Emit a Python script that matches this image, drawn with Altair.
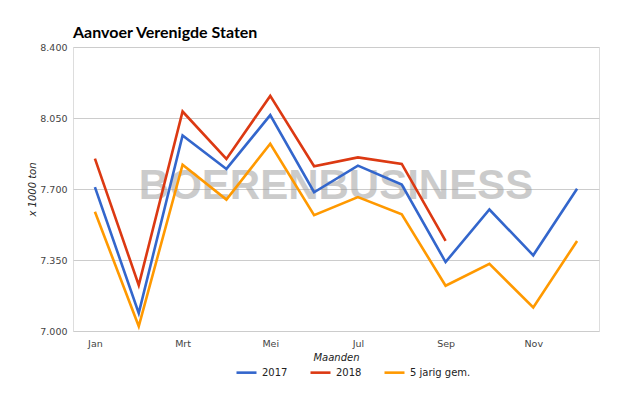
import altair as alt
import pandas as pd

months = ["Jan", "Feb", "Mrt", "Apr", "Mei", "Jun", "Jul", "Aug", "Sep", "Okt", "Nov", "Dec"]
v2017 = [7709, 7088, 7964, 7799, 8064, 7684, 7815, 7722, 7340, 7599, 7373, 7701]
v2018 = [7850, 7226, 8082, 7848, 8159, 7812, 7856, 7824, 7444]
avg5 = [7588, 7023, 7820, 7648, 7923, 7571, 7660, 7575, 7223, 7331, 7116, 7444]
series_names = ["2017", "2018", "5 jarig gem."]
series_colors = ["#3366cc", "#dc3912", "#ff9900"]
y_ticks = [7000, 7350, 7700, 8050, 8400]
x_label_months = ["Jan", "Mrt", "Mei", "Jul", "Sep", "Nov"]

rows = []
for name, vals in zip(series_names, [v2017, v2018, avg5]):
    for m, v in zip(months, vals):
        rows.append({"maand": m, "waarde": v, "serie": name})
df = pd.DataFrame(rows)

W, H = 526, 284

watermark = alt.Chart(pd.DataFrame({"t": ["BOERENBUSINESS"]})).mark_text(
    font="Liberation Sans",
    fontWeight="bold",
    fontSize=42,
    color="#999999",
    opacity=0.5,
    align="center",
    baseline="alphabetic",
).encode(text="t:N", x=alt.value(263), y=alt.value(152))

lines = alt.Chart(df).mark_line(strokeWidth=2.6).encode(
    x=alt.X(
        "maand:N",
        sort=months,
        scale=alt.Scale(type="point", padding=0.5),
        axis=alt.Axis(
            values=x_label_months,
            title="Maanden",
            titleFontStyle="italic",
            titleFontWeight="normal",
            titleFont="DejaVu Sans",
            titleFontSize=10,
            titleColor="#222222",
            titleX=263,
            titleY=26,
            titleBaseline="middle",
            titleAlign="center",
            labelFont="DejaVu Sans",
            labelFontSize=9.5,
            labelColor="#444444",
            labelPadding=7,
            labelAngle=0,
            ticks=False,
            tickSize=0,
            domain=False,
            grid=False,
        ),
    ),
    y=alt.Y(
        "waarde:Q",
        scale=alt.Scale(domain=[7000, 8400], nice=False, zero=False),
        axis=alt.Axis(
            values=y_ticks,
            labelExpr="replace(format(datum.value, ','), ',', '.')",
            title="x 1000 ton",
            titleFontStyle="italic",
            titleFontWeight="normal",
            titleFont="DejaVu Sans",
            titleFontSize=10,
            titleColor="#222222",
            titleAngle=-90,
            titleX=-41,
            titleY=142,
            titleBaseline="middle",
            titleAlign="center",
            labelFont="DejaVu Sans",
            labelFontSize=9.5,
            labelColor="#444444",
            labelPadding=6,
            ticks=False,
            tickSize=0,
            domain=False,
            grid=True,
            gridColor="#cccccc",
            gridWidth=1,
        ),
    ),
    color=alt.Color(
        "serie:N",
        scale=alt.Scale(domain=series_names, range=series_colors),
        legend=alt.Legend(
            title=None,
            orient="none",
            direction="horizontal",
            legendX=162,
            legendY=314,
            symbolType="stroke",
            symbolSize=400,
            symbolStrokeWidth=2.6,
            labelFont="DejaVu Sans",
            labelFontSize=10,
            labelColor="#222222",
            labelOffset=4,
            columnPadding=17,
        ),
    ),
    detail="serie:N",
)

chart = alt.layer(watermark, lines).properties(
    width=W,
    height=H,
    title=alt.TitleParams(
        "Aanvoer Verenigde Staten",
        anchor="start",
        frame="group",
        font="Lato",
        fontSize=16,
        fontWeight="bold",
        color="#000000",
        baseline="alphabetic",
        offset=-12,
    ),
    autosize=alt.AutoSizeParams(type="none"),
    padding={"left": 65, "top": 39, "right": 16, "bottom": 56},
).configure_view(stroke=None).configure(background="white")

chart.save("out.html", embed_options={"renderer": "svg", "actions": False})
